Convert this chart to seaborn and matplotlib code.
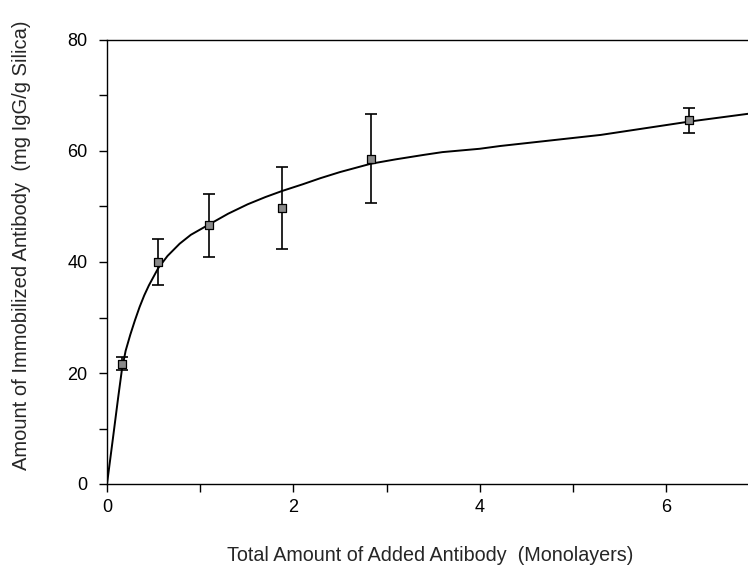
import matplotlib
matplotlib.use("Agg")
import matplotlib.pyplot as plt
import seaborn as sns
import pandas as pd

# Measured data points
added_x = [0.16, 0.55, 1.10, 1.88, 2.83, 6.25]
immob_y = [21.7, 40.0, 46.6, 49.7, 58.6, 65.5]
err_y = [1.2, 4.1, 5.7, 7.4, 8.0, 2.3]

# Fitted curve
curve_x = [0.0, 0.065, 0.12, 0.16, 0.20, 0.25, 0.30, 0.35, 0.40, 0.45, 0.55, 0.65,
           0.78, 0.90, 1.11, 1.30, 1.51, 1.70, 1.88, 2.10, 2.29, 2.50, 2.83, 3.10,
           3.40, 3.60, 4.00, 4.22, 5.30, 6.25, 6.88]
curve_y = [0.0, 8.4, 15.6, 20.6, 24.0, 26.9, 29.5, 31.9, 34.0, 35.8, 38.9, 41.1,
           43.3, 44.9, 46.9, 48.7, 50.4, 51.7, 52.8, 54.0, 55.1, 56.2, 57.7, 58.5,
           59.3, 59.8, 60.4, 60.9, 62.9, 65.3, 66.7]

x_ticks = [0, 1, 2, 3, 4, 5, 6]
x_labels = ["0", "", "2", "", "4", "", "6"]
y_ticks = [0, 10, 20, 30, 40, 50, 60, 70, 80]
y_labels = ["0", "", "20", "", "40", "", "60", "", "80"]

sns.set_style("ticks")
plt.rcParams['font.family'] = ['Liberation Sans', 'DejaVu Sans']

fig = plt.figure(figsize=(7.48, 5.69), dpi=100)
ax = fig.add_axes([107/748, 1-484/569, 1-107/748, (484-40)/569])

curve_df = pd.DataFrame({"x": curve_x, "y": curve_y})
pts_df = pd.DataFrame({"x": added_x, "y": immob_y, "e": err_y})

sns.lineplot(data=curve_df, x="x", y="y", ax=ax, color="black", linewidth=1.4,
             estimator=None, sort=False)
ax.errorbar(pts_df["x"], pts_df["y"], yerr=pts_df["e"], fmt="none",
            ecolor="black", elinewidth=1.2, capsize=4.5, capthick=1.2, zorder=3)
sns.scatterplot(data=pts_df, x="x", y="y", ax=ax, marker="s", s=36,
                color="#8a8a8a", edgecolor="black", linewidth=0.9, zorder=4)

ax.set_xlim(0, 6.88)
ax.set_ylim(0, 80)
ax.set_xticks(x_ticks)
ax.set_xticklabels(x_labels)
ax.set_yticks(y_ticks)
ax.set_yticklabels(y_labels)
ax.tick_params(axis="both", direction="out", length=6, width=1, labelsize=13,
               color="black", labelcolor="black")
ax.tick_params(axis="x", pad=5)
ax.tick_params(axis="y", pad=8)

for s in ["left", "bottom", "top"]:
    ax.spines[s].set_visible(True)
    ax.spines[s].set_linewidth(1.0)
    ax.spines[s].set_color("black")
ax.spines["right"].set_visible(False)

ax.set_xlabel("Total Amount of Added Antibody  (Monolayers)", fontsize=14.2)
ax.set_ylabel("Amount of Immobilized Antibody  (mg IgG/g Silica)", fontsize=14.5)
ax.xaxis.set_label_coords(0.504, -0.16)
ax.yaxis.set_label_coords(-0.133, 0.538)
ax.xaxis.label.set_verticalalignment("center")
ax.yaxis.label.set_verticalalignment("center")

fig.savefig("out.png", dpi=100)
